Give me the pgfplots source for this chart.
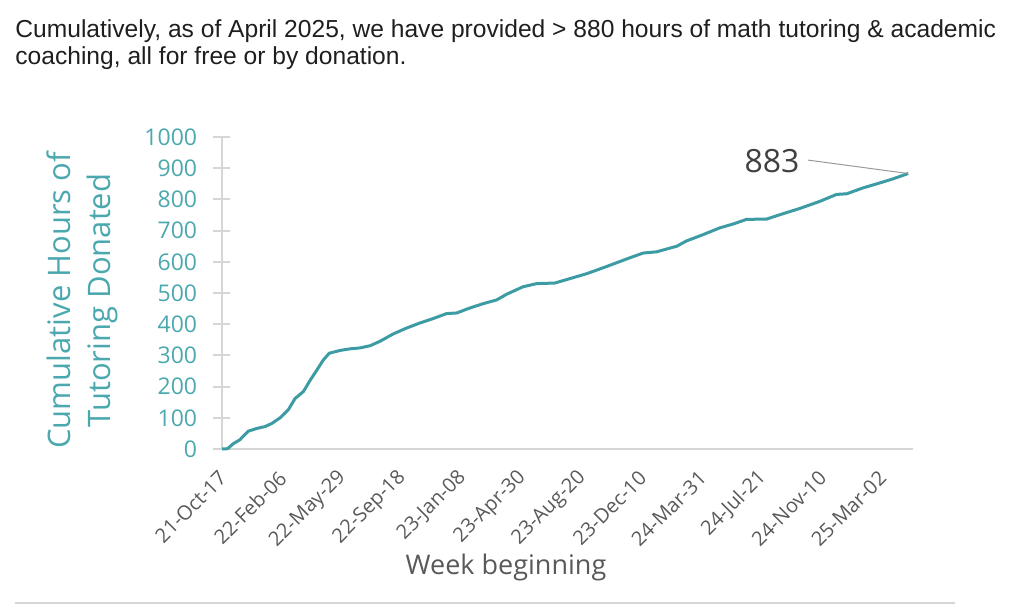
\documentclass[border=0pt]{standalone}
\usepackage{pgfplots}
\pgfplotsset{compat=1.18}
\usepackage{fontspec}
\setmainfont{Open Sans}
\newfontfamily\titlefont{Liberation Sans}
\definecolor{curve}{RGB}{60,155,163}
\definecolor{tealtxt}{RGB}{75,168,174}
\definecolor{axgray}{RGB}{214,214,214}
\definecolor{lbl}{RGB}{89,89,89}
\definecolor{ann}{RGB}{64,64,64}
\begin{document}
\begin{tikzpicture}
\useasboundingbox (0,0) rectangle (512pt,-306pt);
\node[anchor=base west,inner sep=0pt,text=black!88,font=\titlefont\fontsize{12.3}{14}\selectfont] at (7.5pt,-18.5pt) {Cumulatively, as of April 2025, we have provided > 880 hours of math tutoring \& academic};
\node[anchor=base west,inner sep=0pt,text=black!88,font=\titlefont\fontsize{12.3}{14}\selectfont] at (7.5pt,-32pt) {coaching, all for free or by donation.};
\begin{axis}[
  at={(111pt,-224.5pt)}, anchor=south west,
  scale only axis, width=345.5pt, height=156pt,
  xmin=0, xmax=184.3, ymin=0, ymax=1000,
  axis lines=left,
  axis line style={draw=axgray, line width=1pt, -},
  x axis line style={shorten <=-4.5pt},
  xtick={0,16,...,176},
  xticklabels={21-Oct-17,22-Feb-06,22-May-29,22-Sep-18,23-Jan-08,23-Apr-30,23-Aug-20,23-Dec-10,24-Mar-31,24-Jul-21,24-Nov-10,25-Mar-02},
  major x tick style={draw=none},
  ytick={0,100,...,1000},
  tick align=center, major tick length=8.5pt,
  major y tick style={draw=axgray, line width=1pt},
  /pgf/number format/assume math mode=true,
  /pgf/number format/1000 sep={},
  yticklabel style={font=\fontsize{11.5}{12}\selectfont, text=tealtxt, inner sep=0pt, xshift=-8pt},
  xticklabel style={font=\fontsize{10}{12}\selectfont, text=lbl, inner sep=0pt, yshift=-8.5pt, xshift=0.5pt, rotate=45, anchor=east},
  ylabel={Cumulative Hours of\\Tutoring Donated},
  every axis y label/.style={at={(axis description cs:0,0.5)}, xshift=-70pt, yshift=-3.75pt, rotate=90, anchor=center, align=center, font=\fontsize{15.5}{20}\selectfont, text=tealtxt},
  xlabel={Week beginning},
  every axis x label/.style={at={(axis description cs:0.411,0)}, yshift=-59pt, anchor=center, font=\fontsize{13.5}{15}\selectfont, text=lbl},
  clip=false,
]
\addplot[curve, line width=1.5pt, line join=round] coordinates {
(0,0) (1.5,1) (3.0,17) (4.8,30) (7.0,57) (9.3,66) (11.5,72) (13.3,82) (15.5,100)
(17.7,126) (19.5,162) (21.7,184) (23.5,220) (25.3,253) (27.0,285) (28.6,307)
(31.5,316) (34.1,321) (36.8,324) (39.5,331) (42.1,345) (45.7,369) (49.3,388)
(52.8,404) (56.3,418) (59.9,434) (62.6,436) (66.1,452) (69.7,466) (73.3,478)
(75.9,496) (80.3,520) (83.9,530) (88.8,532) (91.9,543) (97.3,562) (102.6,585)
(107.9,609) (112.3,628) (115.9,632) (121.3,650) (123.9,667) (128.3,687)
(132.8,709) (136.3,721) (139.9,736) (145.3,737) (148.8,751) (154.1,771)
(159.5,794) (163.9,816) (166.6,818) (171.0,837) (175.5,853) (179.0,866) (183.0,883)
};
\draw[black!40, line width=0.5pt] (axis cs:156.3,926) -- (axis cs:183.0,883);
\node[font=\fontsize{16}{18}\selectfont, text=ann] at (axis cs:146.7,923) {883};
\end{axis}
\draw[axgray, line width=1pt] (7.5pt,-301.5pt) -- (477.5pt,-301.5pt);
\end{tikzpicture}
\end{document}
